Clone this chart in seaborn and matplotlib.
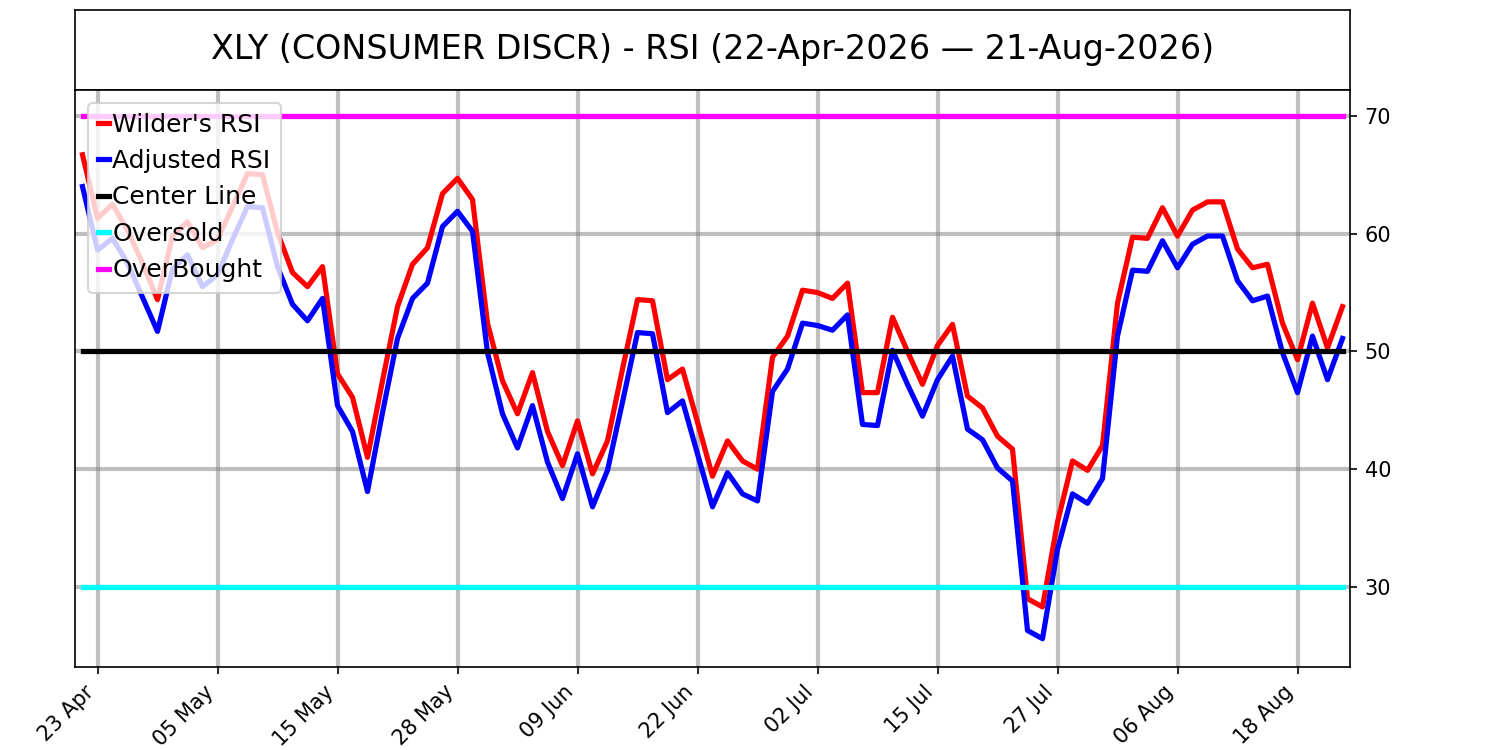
import matplotlib
matplotlib.use("Agg")
import matplotlib.pyplot as plt
import seaborn as sns
import numpy as np
import pandas as pd

title = "XLY (CONSUMER DISCR) - RSI (22-Apr-2026 \u2014 21-Aug-2026)"
start_date = "2026-04-22"
end_date = "2026-08-21"
holidays = ["2026-05-25", "2026-06-19", "2026-07-03"]

wilder_rsi = [66.7, 61.3, 62.5, 60.3, 57.5, 54.4, 59.8, 61.0, 58.8, 59.5,
              62.3, 65.1, 65.0, 60.1, 56.7, 55.5, 57.2, 48.1, 46.1, 41.0,
              47.5, 53.8, 57.4, 58.8, 63.4, 64.7, 62.9, 52.4, 47.5, 44.7,
              48.2, 43.2, 40.3, 44.1, 39.6, 42.4, 48.5, 54.4, 54.3, 47.6,
              48.5, 44.0, 39.4, 42.4, 40.7, 40.0, 49.5, 51.3, 55.2, 55.0,
              54.5, 55.8, 46.5, 46.5, 52.9, 50.0, 47.2, 50.5, 52.3, 46.2,
              45.2, 42.8, 41.7, 29.0, 28.3, 35.5, 40.7, 39.9, 42.0, 54.1,
              59.7, 59.6, 62.2, 59.8, 62.0, 62.7, 62.7, 58.7, 57.1, 57.4,
              52.4, 49.3, 54.1, 50.3, 53.8]

adjusted_rsi = [64.0, 58.6, 59.6, 57.5, 54.6, 51.7, 57.0, 58.2, 55.5, 56.5,
                59.5, 62.3, 62.2, 57.2, 54.0, 52.6, 54.5, 45.4, 43.2, 38.1,
                44.8, 51.1, 54.5, 55.8, 60.6, 61.9, 60.2, 49.9, 44.7, 41.8,
                45.4, 40.6, 37.5, 41.3, 36.8, 39.9, 45.7, 51.6, 51.5, 44.8,
                45.8, 41.3, 36.8, 39.7, 37.9, 37.3, 46.6, 48.5, 52.4, 52.2,
                51.8, 53.1, 43.8, 43.7, 50.1, 47.2, 44.5, 47.6, 49.6, 43.4,
                42.5, 40.1, 39.0, 26.3, 25.6, 33.2, 37.9, 37.1, 39.2, 51.3,
                56.9, 56.8, 59.4, 57.1, 59.1, 59.8, 59.8, 56.0, 54.3, 54.7,
                49.9, 46.5, 51.3, 47.6, 51.1]

center_level = 50
oversold_level = 30
overbought_level = 70
tick_every = 8
tick_first = 1
y_ticks = [30, 40, 50, 60, 70]

dates = pd.bdate_range(start_date, end_date, freq="C", holidays=holidays)
n = len(dates)
idx = np.arange(n)

fig = plt.figure(figsize=(10, 5), dpi=150)
ax_t = fig.add_axes([0.05, 0.88, 0.85, 0.1067])
ax = fig.add_axes([0.05, 0.1107, 0.85, 0.7693])

ax_t.set_xticks([])
ax_t.set_yticks([])
ax_t.text(0.5, 0.5, title, ha="center", va="center", fontsize=16,
          transform=ax_t.transAxes)

lw = 2.5
sns.lineplot(x=idx, y=wilder_rsi, color="red", linewidth=lw, label="Wilder's RSI", ax=ax)
sns.lineplot(x=idx, y=adjusted_rsi, color="blue", linewidth=lw, label="Adjusted RSI", ax=ax)
sns.lineplot(x=idx, y=[center_level] * n, color="black", linewidth=lw, label="Center Line", ax=ax)
sns.lineplot(x=idx, y=[oversold_level] * n, color="cyan", linewidth=lw, label="Oversold", ax=ax)
sns.lineplot(x=idx, y=[overbought_level] * n, color="magenta", linewidth=lw, label="OverBought", ax=ax)

ax.set_xlim(-0.5, n - 0.5)
ax.set_ylim(23.2, 72.2)
tick_pos = idx[tick_first::tick_every]
ax.set_xticks(tick_pos)
ax.set_xticklabels([d.strftime("%d %b") for d in dates[tick_first::tick_every]],
                   rotation=45, ha="right", fontsize=10)
ax.set_yticks(y_ticks)
ax.yaxis.tick_right()
ax.tick_params(axis="y", labelsize=10)
ax.grid(True, color="gray", alpha=0.5, linewidth=2)
ax.set_axisbelow(True)

ax.legend(loc="upper left", fontsize=12, handlelength=0.45, handletextpad=0.15)

fig.savefig("out.png", dpi=150)
